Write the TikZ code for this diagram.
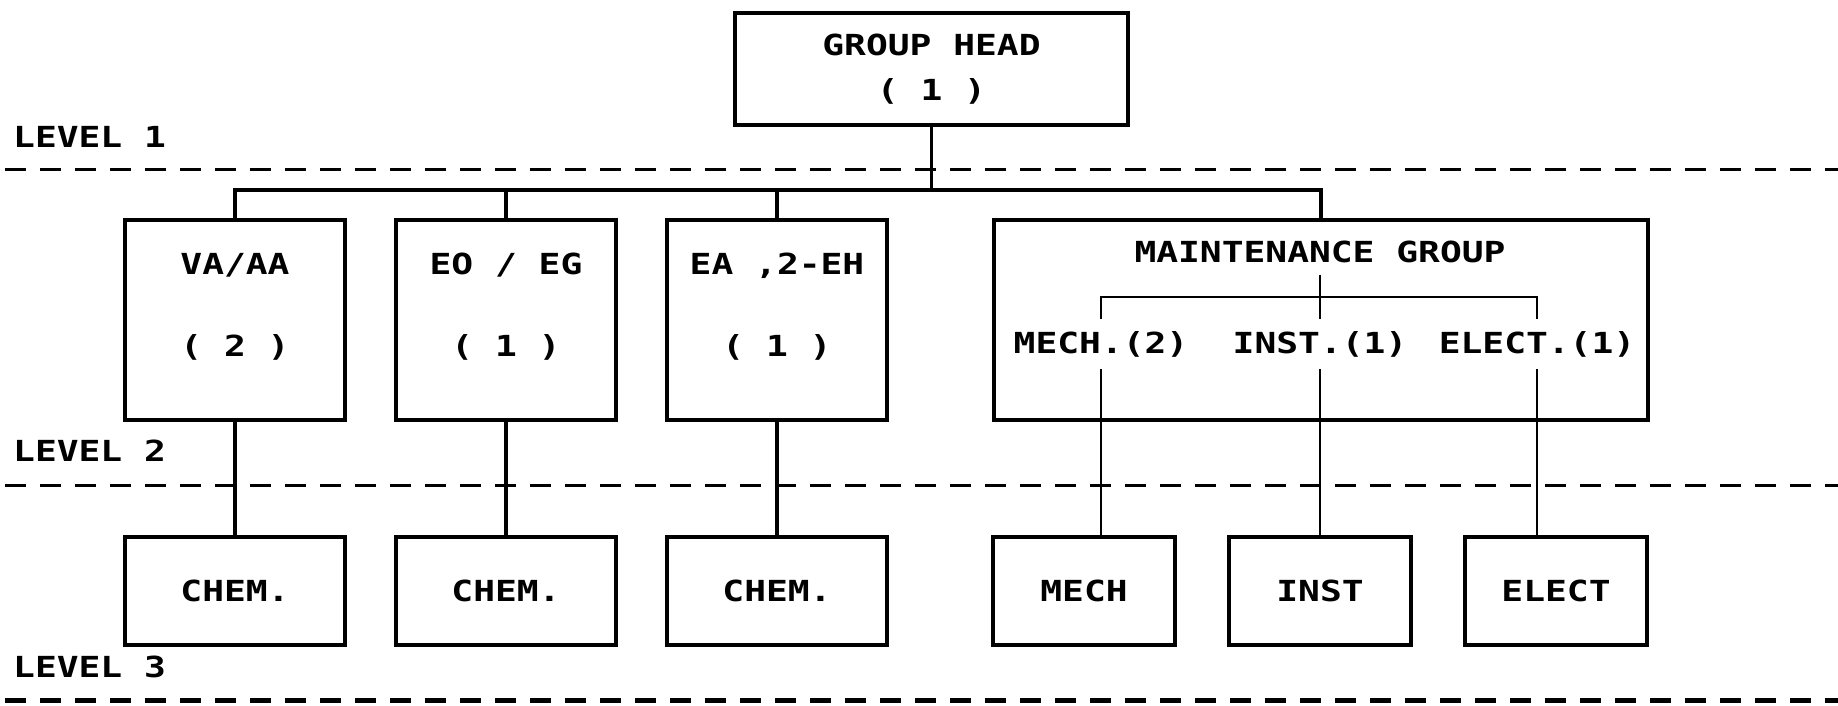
\documentclass[tikz,border=0pt]{standalone}
\usepackage{fontspec}
\setmainfont[FakeStretch=1.25]{DejaVu Sans Mono}

\begin{document}
\begin{tikzpicture}[
  x=1pt, y=-1pt,
  font=\fontsize{29}{35}\selectfont\bfseries,
  box/.style={draw, line width=3.5pt, align=center, inner sep=0pt},
  lvtwo/.style={box, minimum width=220pt, minimum height=200pt, text depth=31pt},
  lvthree/.style={box, minimum height=108pt},
  wire/.style={line width=3.5pt},
  sub/.style={line width=2.5pt},
  lvl/.style={line width=3pt, dash pattern=on 21pt off 14pt},
  tag/.style={anchor=base west, inner sep=0pt},
  sublbl/.style={anchor=base, inner xsep=2pt, inner ysep=12pt}
]
\useasboundingbox (0,0) rectangle (1838,705);

% level lines
\draw[lvl] (5,169) -- (1838,169);
\draw[lvl] (5,485) -- (1838,485);
\draw[lvl, line width=5pt] (5,700) -- (1838,700);

\node[tag] (lev1) at (13,147) {LEVEL 1};
\node[tag] (lev2) at (13,461) {LEVEL 2};
\node[tag] (lev3) at (13,677) {LEVEL 3};

% level 1
\node[box, minimum width=393pt, minimum height=112pt] (head) at (931.5,69)
  {GROUP HEAD\\[10pt]( 1 )};

% level 2
\node[lvtwo] (vaaa) at (235,320) {VA/AA\\[47pt]( 2 )};
\node[lvtwo] (eoeg) at (506,320) {EO / EG\\[47pt]( 1 )};
\node[lvtwo] (eaeh) at (777,320) {EA ,2-EH\\[47pt]( 1 )};
\node[box, minimum width=654pt, minimum height=200pt] (maint) at (1321,320) {};

\node[anchor=base, inner sep=12pt] (mtitle) at (1320,262) {MAINTENANCE GROUP};
\node[sublbl] (mechs) at (1101,353) {MECH.(2)};
\node[sublbl] (insts) at (1320,353) {INST.(1)};
\node[sublbl] (elects) at (1537,353) {ELECT.(1)};

% level 3
\node[lvthree, minimum width=220pt] (chemA) at (235,591) {CHEM.};
\node[lvthree, minimum width=220pt] (chemB) at (506,591) {CHEM.};
\node[lvthree, minimum width=220pt] (chemC) at (777,591) {CHEM.};
\node[lvthree, minimum width=182pt] (mech) at (1084,591) {MECH};
\node[lvthree, minimum width=182pt] (inst) at (1320,591) {INST};
\node[lvthree, minimum width=182pt] (elect) at (1556,591) {ELECT};

% connectors
\draw[wire] (head.south) -- ++(0,63) coordinate (bus);
\foreach \n in {vaaa,eoeg,eaeh,maint}
  \draw[wire] (bus) -| (\n.north);
\foreach \a/\b in {vaaa/chemA,eoeg/chemB,eaeh/chemC}
  \draw[wire] (\a.south) -- (\b.north);

\draw[sub] (mtitle.south) -- (insts.north);
\draw[sub] (mechs.north) -- ++(0,-22) -| (elects.north);
\foreach \a/\b in {mechs/mech,insts/inst,elects/elect}
  \draw[sub] (\a.south) -- (\a.south |- \b.north);
\end{tikzpicture}
\end{document}
